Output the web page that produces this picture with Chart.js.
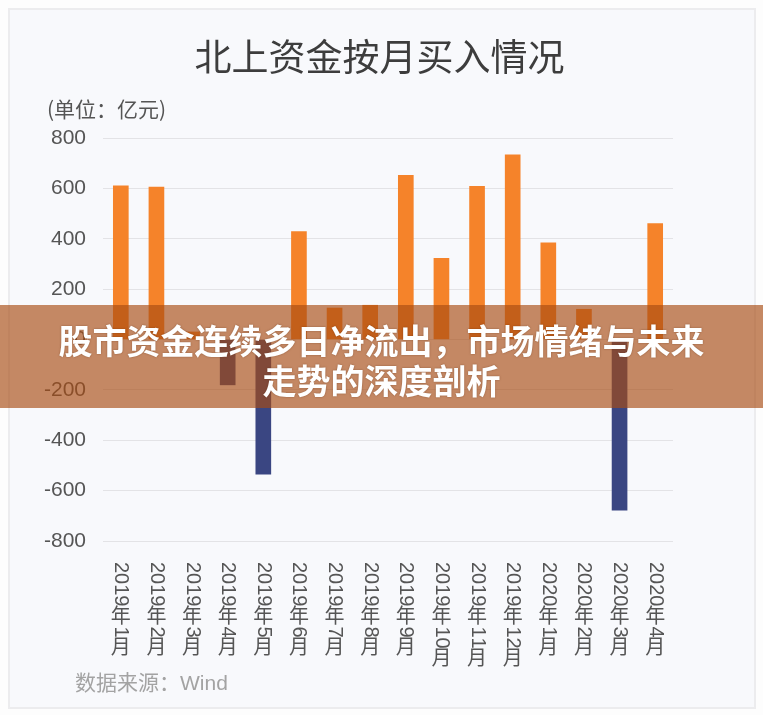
<!DOCTYPE html>
<html>
<head>
<meta charset="utf-8">
<script src="https://cdn.jsdelivr.net/npm/chart.js@4"></script>
<style>
    html, body { margin: 0; padding: 0; background: #fdfdfd; }
    #wrap { position: relative; width: 763px; height: 715px; overflow: hidden; }
    #panel {
        position: absolute; left: 8px; top: 8px; width: 744px; height: 697px;
        background: #f8f9fc; border: 2px solid #ececee;
    }
    #chart { position: absolute; left: 0; top: 0; }
    .txt { position: absolute; font-family: "Noto Sans CJK SC", "Liberation Sans", sans-serif; white-space: nowrap; }
    #title { left: 0; width: 759px; top: 35px; text-align: center; font-size: 37px; line-height: 40px; color: #3d3d3d; }
    #unit { left: 47px; top: 96px; font-size: 21px; line-height: 24px; color: #555; }
    #source { left: 75px; top: 669px; font-size: 21px; line-height: 24px; color: #a3a3a3; }
    #source span { font-family: "Liberation Sans", sans-serif; }
    #banner {
        position: absolute; left: 0; top: 305px; width: 763px; height: 103px;
        background: rgba(168, 76, 18, 0.65);
    }
    #banner div {
        position: absolute; left: 0; width: 763px; text-align: center;
        font-family: "Noto Sans CJK SC", sans-serif; font-weight: 700;
        font-size: 34px; line-height: 40px; color: #fff;
        text-shadow: 0 0 2px rgba(90, 40, 10, 0.5);
    }
</style>
</head>
<body>
<div id="wrap">
    <div id="panel"></div>
    <canvas id="chart" width="763" height="715"></canvas>
    <div class="txt" id="title">北上资金按月买入情况</div>
    <div class="txt" id="unit">(单位：亿元)</div>
    <div class="txt" id="source">数据来源：<span>Wind</span></div>
    <div id="banner">
        <div style="top: 15px;">股市资金连续多日净流出，市场情绪与未来</div>
        <div style="top: 55px;">走势的深度剖析</div>
    </div>
</div>
<script>
// monthly net buy of northbound money (亿元)
const months = ["2019年1月", "2019年2月", "2019年3月", "2019年4月", "2019年5月", "2019年6月",
    "2019年7月", "2019年8月", "2019年9月", "2019年10月", "2019年11月", "2019年12月",
    "2020年1月", "2020年2月", "2020年3月", "2020年4月"];
const netBuy = [610, 605, 30, -180, -535, 428, 125, 136, 652, 322, 608, 733, 384, 120, -678, 460];
const yMin = -800;
const yMax = 800;
const yStep = 200;

const inColor = "#f5832a";
const outColor = "#3a4682";

// x labels are written top to bottom: digits turned, Chinese upright
const verticalLabels = {
    id: "verticalLabels",
    afterDraw(chart) {
        const ctx = chart.ctx;
        const xs = chart.scales.x;
        const size = 20;
        ctx.save();
        ctx.fillStyle = "#555";
        months.forEach(function (label, i) {
            const x = xs.getPixelForTick(i);
            let y = xs.top + 21;
            for (const ch of label) {
                if (/[0-9]/.test(ch)) {
                    ctx.font = size + 'px "Liberation Sans", sans-serif';
                    const w = ctx.measureText(ch).width;
                    ctx.save();
                    ctx.translate(x, y);
                    ctx.rotate(Math.PI / 2);
                    ctx.textAlign = "left";
                    ctx.textBaseline = "middle";
                    ctx.fillText(ch, 0, 0);
                    ctx.restore();
                    y += w;
                } else {
                    ctx.font = size + 'px "Noto Sans CJK SC", sans-serif';
                    ctx.textAlign = "center";
                    ctx.textBaseline = "top";
                    ctx.fillText(ch, x, y - 1);
                    y += size;
                }
            }
        });
        ctx.restore();
    }
};

new Chart(document.getElementById("chart").getContext("2d"), {
    type: "bar",
    data: {
        labels: months,
        datasets: [{
            label: "北上资金",
            data: netBuy,
            backgroundColor: netBuy.map(v => v >= 0 ? inColor : outColor),
            barThickness: 15
        }]
    },
    options: {
        responsive: false,
        animation: false,
        layout: { padding: { top: 138, right: 90, bottom: 44, left: 0 } },
        plugins: {
            legend: { display: false },
            tooltip: { enabled: false }
        },
        scales: {
            x: {
                grid: { display: false },
                border: { display: false },
                ticks: { display: false },
                afterFit(scale) { scale.height = 130; }
            },
            y: {
                min: yMin,
                max: yMax,
                ticks: {
                    stepSize: yStep,
                    padding: 17,
                    color: "#555",
                    font: { family: '"Liberation Sans", sans-serif', size: 21 }
                },
                grid: { color: "#e3e3e6", drawTicks: false },
                border: { display: false },
                afterFit(scale) { scale.width = 103; }
            }
        }
    },
    plugins: [verticalLabels]
});
</script>
</body>
</html>
